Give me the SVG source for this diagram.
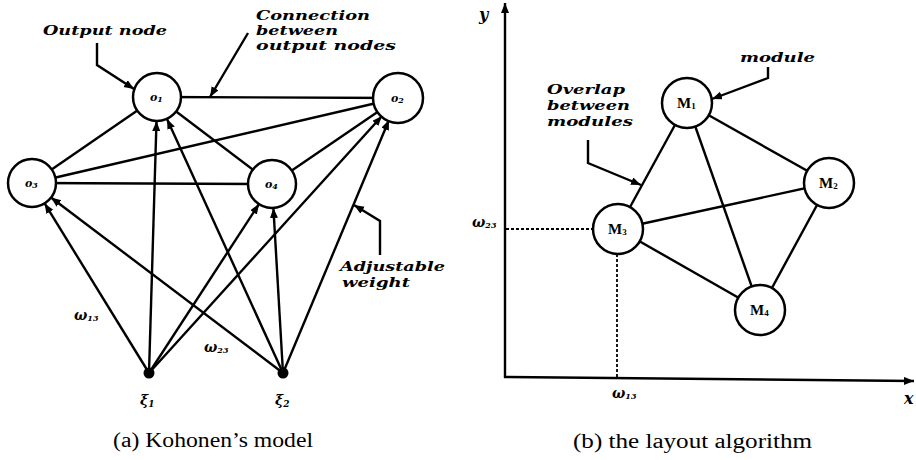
<svg xmlns="http://www.w3.org/2000/svg" width="916" height="460" viewBox="0 0 916 460">
<style>
.ln{stroke:#000;stroke-width:2.4;fill:none}
.ar{stroke:#000;stroke-width:2.4;fill:none;marker-end:url(#ah)}
.dt{stroke:#000;stroke-width:1.8;fill:none;stroke-dasharray:3 2}
.nd{fill:#fff;stroke:#000;stroke-width:2.5}
.lb{font-family:"DejaVu Serif","Liberation Serif",serif;font-weight:bold;font-style:italic;font-size:13px;fill:#000}
.nl{font-family:"DejaVu Serif","Liberation Serif",serif;font-weight:bold;font-style:italic;font-size:11px;fill:#000}
.ml{font-family:"Liberation Serif","DejaVu Serif",serif;font-weight:bold;font-size:15px;fill:#000}
.gk{font-family:"DejaVu Serif","Liberation Serif",serif;font-weight:bold;font-style:italic;font-size:14px;fill:#000}
.ax{font-family:"DejaVu Serif","Liberation Serif",serif;font-weight:bold;font-style:italic;font-size:16px;fill:#000}
.cp{font-family:"Liberation Serif","DejaVu Serif",serif;font-size:20px;fill:#000}
</style>
<defs>
<marker id="ah" markerUnits="userSpaceOnUse" markerWidth="12" markerHeight="10" refX="10" refY="4" orient="auto">
<path d="M0,0 L10,4 L0,8 Z" fill="#000"/>
</marker>
</defs>

<g id="connectors">
<line class="ln" x1="157" y1="97" x2="398" y2="98"/>
<line class="ln" x1="157" y1="97" x2="32" y2="183"/>
<line class="ln" x1="157" y1="97" x2="272" y2="184"/>
<line class="ln" x1="32" y1="183" x2="398" y2="98"/>
<line class="ln" x1="32" y1="183" x2="272" y2="184"/>
<line class="ln" x1="272" y1="184" x2="398" y2="98"/>
<line class="ar" x1="149" y1="373" x2="156.5" y2="121"/>
<line class="ar" x1="149" y1="373" x2="44.6" y2="203.4"/>
<line class="ar" x1="149" y1="373" x2="259" y2="204"/>
<line class="ar" x1="149" y1="373" x2="382" y2="116"/>
<line class="ar" x1="283" y1="373" x2="167" y2="119"/>
<line class="ar" x1="283" y1="373" x2="51" y2="197.5"/>
<line class="ar" x1="283" y1="373" x2="273.4" y2="208"/>
<line class="ar" x1="283" y1="373" x2="389" y2="120"/>
<polyline class="ar" points="97,43 97,65 134,89"/>
<polyline class="ar" points="248,33 210,97"/>
<polyline class="ar" points="380,255 380,221 354,205"/>
<line class="ln" x1="687" y1="103" x2="829" y2="183"/>
<line class="ln" x1="687" y1="103" x2="618" y2="229"/>
<line class="ln" x1="687" y1="103" x2="760" y2="310"/>
<line class="ln" x1="618" y1="229" x2="829" y2="183"/>
<line class="ln" x1="618" y1="229" x2="760" y2="310"/>
<line class="ln" x1="829" y1="183" x2="760" y2="310"/>
<line class="ar" x1="505" y1="378" x2="505" y2="3"/>
<line class="ar" x1="504" y1="377" x2="914" y2="381"/>
<line class="dt" x1="506" y1="229" x2="593" y2="229"/>
<line class="dt" x1="617" y1="254" x2="617" y2="377"/>
<polyline class="ar" points="768,67 768,78 712,99"/>
<polyline class="ar" points="588,140 588,163 641,185"/>
</g>

<g id="O1"><circle class="nd" cx="157" cy="97" r="24"/><text class="nl" x="150" y="101">o<tspan font-size="8" dy="1">1</tspan></text></g>
<g id="O2"><circle class="nd" cx="398" cy="98" r="25"/><text class="nl" x="391" y="102">o<tspan font-size="8" dy="1">2</tspan></text></g>
<g id="O3"><circle class="nd" cx="32" cy="183" r="24"/><text class="nl" x="25" y="187">o<tspan font-size="8" dy="1">3</tspan></text></g>
<g id="O4"><circle class="nd" cx="272" cy="184" r="24"/><text class="nl" x="265" y="188">o<tspan font-size="8" dy="1">4</tspan></text></g>
<g id="xi1"><circle cx="149" cy="373" r="5.5" fill="#000"/><text class="gk" x="140" y="405">ξ<tspan font-size="9" dy="2">1</tspan></text></g>
<g id="xi2"><circle cx="283" cy="373" r="5.5" fill="#000"/><text class="gk" x="275" y="405">ξ<tspan font-size="9" dy="2">2</tspan></text></g>

<g id="M1"><circle class="nd" cx="687" cy="103" r="25"/><text class="ml" x="677" y="108">M<tspan font-size="9" dy="1">1</tspan></text></g>
<g id="M2"><circle class="nd" cx="829" cy="183" r="25"/><text class="ml" x="819" y="188">M<tspan font-size="9" dy="1">2</tspan></text></g>
<g id="M3"><circle class="nd" cx="618" cy="229" r="25"/><text class="ml" x="608" y="234">M<tspan font-size="9" dy="1">3</tspan></text></g>
<g id="M4"><circle class="nd" cx="760" cy="310" r="25"/><text class="ml" x="750" y="315">M<tspan font-size="9" dy="1">4</tspan></text></g>

<g id="labels">
<text class="lb" x="43" y="35" font-size="14" textLength="124" lengthAdjust="spacingAndGlyphs">Output node</text>
<text class="lb" x="256" y="20" textLength="114" lengthAdjust="spacingAndGlyphs">Connection</text>
<text class="lb" x="256" y="35" textLength="82" lengthAdjust="spacingAndGlyphs">between</text>
<text class="lb" x="256" y="50" textLength="140" lengthAdjust="spacingAndGlyphs">output nodes</text>
<text class="lb" x="340" y="271" textLength="105" lengthAdjust="spacingAndGlyphs">Adjustable</text>
<text class="lb" x="342" y="287" textLength="68" lengthAdjust="spacingAndGlyphs">weight</text>
<text class="gk" x="74" y="320">ω<tspan font-size="8" dy="1">13</tspan></text>
<text class="gk" x="204" y="352">ω<tspan font-size="8" dy="1">23</tspan></text>
<text class="cp" x="113" y="447" textLength="200" lengthAdjust="spacingAndGlyphs">(a)  Kohonen’s model</text>

<text class="lb" x="740" y="62" font-size="14" textLength="75" lengthAdjust="spacingAndGlyphs">module</text>
<text class="lb" x="547" y="94" textLength="78" lengthAdjust="spacingAndGlyphs">Overlap</text>
<text class="lb" x="547" y="110" textLength="83" lengthAdjust="spacingAndGlyphs">between</text>
<text class="lb" x="547" y="126" textLength="86" lengthAdjust="spacingAndGlyphs">modules</text>
<text class="ax" x="479" y="20">y</text>
<text class="ax" x="904" y="404">x</text>
<text class="gk" x="472" y="227">ω<tspan font-size="8" dy="1">23</tspan></text>
<text class="gk" x="612" y="398">ω<tspan font-size="8" dy="1">13</tspan></text>
<text class="cp" x="573" y="448" textLength="239" lengthAdjust="spacingAndGlyphs">(b)  the layout algorithm</text>
</g>
</svg>
